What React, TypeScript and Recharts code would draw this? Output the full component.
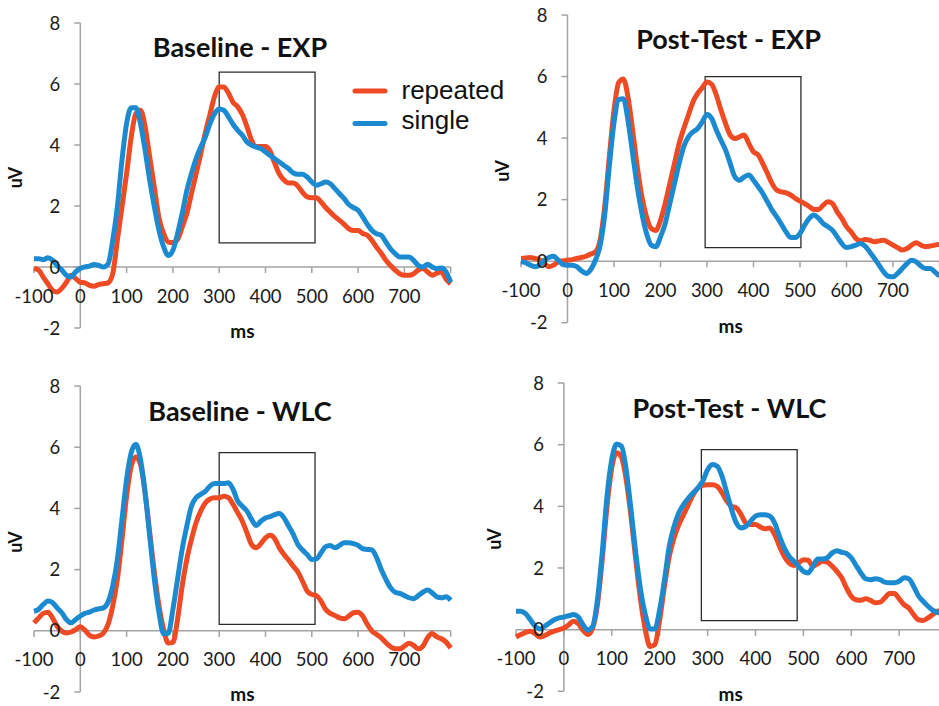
import { LineChart, Line, XAxis, YAxis, ReferenceLine, ReferenceArea, ReferenceDot } from "recharts";

const RED = "#ee4a24";
const BLUE = "#1c8ad0";
const AXIS = "#a3a3a3";
const FONT = "Lato, 'Open Sans', sans-serif";

// time base in ms, -100..800 step 10
const ms = Array.from({ length: 91 }, (_, i) => -100 + i * 10);

const xTicks = [-100, 0, 100, 200, 300, 400, 500, 600, 700];
const xTickMarks = [-100, 0, 100, 200, 300, 400, 500, 600, 700, 800];
const yTicks = [-2, 0, 2, 4, 6, 8];

// Baseline - EXP
const p1Rep = [
  -0.05, -0.1, -0.33, -0.55, -0.76, -0.82, -0.7, -0.5, -0.27, -0.38,
  -0.5, -0.52, -0.6, -0.63, -0.57, -0.55, -0.52, -0.22, 0.87, 1.97,
  3.06, 4.26, 5.03, 5.14, 4.6, 3.6, 2.6, 1.6, 1.1, 0.82,
  0.8, 0.9, 1.3, 1.75, 2.4, 3.05, 3.7, 4.4, 5.0, 5.6,
  5.9, 5.9, 5.7, 5.4, 5.25, 5.0, 4.6, 4.15, 3.95, 3.95,
  3.95, 3.8, 3.4, 3.05, 2.85, 2.75, 2.75, 2.65, 2.45, 2.3,
  2.27, 2.27, 2.13, 1.95, 1.8, 1.65, 1.53, 1.4, 1.25, 1.2,
  1.2, 1.1, 1.04, 0.87, 0.65, 0.45, 0.22, 0.05, -0.1, -0.22,
  -0.27, -0.27, -0.22, -0.1, -0.05, -0.16, -0.27, -0.2, -0.16, -0.4,
  -0.55,
];
const p1Sgl = [
  0.27, 0.27, 0.24, 0.3, 0.22, 0.05, -0.1, -0.27, -0.33, -0.16,
  -0.05, 0, 0.03, 0.08, 0.05, 0, 0.1, 0.87, 1.97, 3.5,
  4.7, 5.22, 5.22, 4.7, 3.83, 2.84, 1.97, 1.2, 0.66, 0.38,
  0.55, 1.09, 1.75, 2.5, 3.06, 3.55, 3.93, 4.26, 4.7, 5.03,
  5.18, 5.14, 4.92, 4.68, 4.48, 4.32, 4.1, 3.99, 3.93, 3.88,
  3.77, 3.66, 3.55, 3.44, 3.33, 3.22, 3.08, 3.04, 3.04, 2.95,
  2.79, 2.68, 2.73, 2.79, 2.73, 2.57, 2.4, 2.24, 2.05, 1.95,
  1.86, 1.64, 1.4, 1.2, 1.09, 1.04, 0.82, 0.6, 0.44, 0.33,
  0.33, 0.33, 0.22, 0.05, 0, 0.09, 0, -0.05, -0.03, -0.16,
  -0.5,
];

// Post-Test - EXP
const p2Rep = [
  0.09, 0.1, 0.12, 0.09, 0.05, -0.08, -0.18, -0.13, -0.02, 0.01,
  0.03, 0.05, 0.09, 0.12, 0.16, 0.23, 0.3, 0.68, 1.77, 3.4,
  4.9, 5.8, 5.92, 5.34, 4.26, 3.07, 2.09, 1.44, 1.06, 1.0,
  1.33, 1.87, 2.52, 3.17, 3.82, 4.31, 4.75, 5.18, 5.45, 5.64,
  5.82, 5.75, 5.4, 4.91, 4.47, 4.1, 3.99, 4.04, 4.1, 3.82,
  3.55, 3.45, 3.17, 2.85, 2.52, 2.31, 2.25, 2.22, 2.15, 2.04,
  1.95, 1.87, 1.77, 1.68, 1.68, 1.82, 1.93, 1.87, 1.6, 1.39,
  1.12, 0.95, 0.74, 0.66, 0.7, 0.68, 0.63, 0.66, 0.68, 0.61,
  0.52, 0.44, 0.36, 0.41, 0.52, 0.6, 0.52, 0.47, 0.49, 0.52,
  0.54,
];
const p2Sgl = [
  -0.02, -0.05, -0.13, -0.18, -0.13, 0.03, 0.12, 0.16, 0.03, -0.11,
  -0.13, -0.13, -0.18, -0.31, -0.4, -0.27, 0.03, 0.5, 1.5, 3.1,
  4.5, 5.25, 5.28, 4.58, 3.5, 2.42, 1.55, 0.9, 0.52, 0.47,
  0.79, 1.22, 1.87, 2.52, 3.17, 3.72, 4.04, 4.2, 4.31, 4.53,
  4.77, 4.64, 4.26, 3.93, 3.61, 3.17, 2.74, 2.63, 2.74, 2.8,
  2.63, 2.42, 2.2, 1.93, 1.66, 1.44, 1.2, 0.95, 0.77, 0.77,
  0.9, 1.17, 1.39, 1.5, 1.39, 1.22, 1.12, 1.0, 0.79, 0.57,
  0.44, 0.47, 0.52, 0.57, 0.49, 0.3, 0.09, -0.13, -0.35, -0.49,
  -0.51, -0.4, -0.24, -0.08, 0.03, -0.02, -0.16, -0.24, -0.24, -0.35,
  -0.49,
];

// Baseline - WLC
const p3Rep = [
  0.26, 0.42, 0.57, 0.61, 0.42, 0.15, -0.01, -0.07, -0.04, 0.04,
  0.13, 0.02, -0.15, -0.2, -0.17, -0.07, 0.21, 0.81, 1.68, 2.98,
  4.4, 5.38, 5.68, 5.44, 4.51, 3.2, 1.9, 0.81, 0.04, -0.4,
  -0.38, 0.37, 1.46, 2.33, 2.98, 3.53, 3.91, 4.18, 4.31, 4.35,
  4.35, 4.4, 4.35, 4.13, 3.86, 3.58, 3.2, 2.82, 2.71, 2.85,
  3.04, 3.12, 3.01, 2.71, 2.49, 2.31, 2.11, 1.92, 1.62, 1.3,
  1.19, 1.15, 0.97, 0.7, 0.57, 0.5, 0.42, 0.39, 0.48, 0.59,
  0.61, 0.48, 0.21, -0.01, -0.12, -0.23, -0.39, -0.52, -0.59, -0.59,
  -0.5, -0.41, -0.48, -0.59, -0.5, -0.23, -0.09, -0.2, -0.26, -0.37,
  -0.56,
];
const p3Sgl = [
  0.64, 0.7, 0.86, 0.97, 0.92, 0.75, 0.59, 0.37, 0.26, 0.37,
  0.48, 0.57, 0.61, 0.68, 0.72, 0.75, 0.94, 1.46, 2.33, 3.64,
  4.95, 5.82, 6.1, 5.6, 4.51, 3.09, 1.68, 0.59, -0.1, -0.08,
  0.7, 1.68, 2.66, 3.42, 4.07, 4.35, 4.46, 4.56, 4.73, 4.81,
  4.81, 4.81, 4.84, 4.62, 4.24, 4.07, 3.91, 3.64, 3.44, 3.58,
  3.69, 3.73, 3.8, 3.83, 3.69, 3.42, 3.15, 2.82, 2.64, 2.49,
  2.33, 2.35, 2.55, 2.75, 2.79, 2.71, 2.79, 2.88, 2.88, 2.85,
  2.79, 2.68, 2.66, 2.64, 2.39, 2.0, 1.68, 1.41, 1.26, 1.22,
  1.15, 1.08, 1.05, 1.15, 1.26, 1.33, 1.24, 1.11, 1.08, 1.11,
  1.0,
];

// Post-Test - WLC
const p4Rep = [
  -0.24, -0.16, -0.09, -0.05, -0.13, -0.24, -0.19, -0.11, -0.05, 0,
  0.05, 0.16, 0.27, 0.19, -0.02, -0.16, 0.05, 0.81, 2.27, 4.0,
  5.25, 5.74, 5.6, 4.87, 3.68, 2.27, 0.97, 0, -0.55, -0.48,
  0.32, 1.41, 2.38, 2.98, 3.41, 3.73, 4.06, 4.38, 4.6, 4.68,
  4.7, 4.7, 4.65, 4.44, 4.17, 4.0, 3.95, 3.73, 3.46, 3.41,
  3.41, 3.33, 3.27, 3.3, 3.08, 2.71, 2.38, 2.16, 2.08, 2.16,
  2.27, 2.25, 2.06, 2.14, 2.22, 2.19, 2.06, 1.89, 1.68, 1.35,
  1.08, 0.97, 0.95, 1.0, 0.95, 0.87, 0.89, 1.03, 1.17, 1.17,
  1.0, 0.81, 0.7, 0.49, 0.32, 0.3, 0.38, 0.49, 0.6, 0.62,
  0.65,
];
const p4Sgl = [
  0.6, 0.6, 0.52, 0.32, 0.11, 0.02, 0.11, 0.22, 0.32, 0.38,
  0.41, 0.45, 0.49, 0.41, 0.16, -0.01, 0.1, 0.97, 2.49, 4.33,
  5.52, 6.02, 5.95, 5.19, 3.9, 2.49, 1.3, 0.49, 0.02, 0.02,
  0.65, 1.62, 2.71, 3.35, 3.79, 4.06, 4.27, 4.44, 4.6, 4.82,
  5.19, 5.36, 5.3, 4.98, 4.44, 3.9, 3.46, 3.3, 3.35, 3.52,
  3.68, 3.73, 3.73, 3.68, 3.46, 3.03, 2.65, 2.38, 2.22, 2.06,
  1.89, 1.84, 2.06, 2.29, 2.29, 2.33, 2.49, 2.56, 2.51, 2.47,
  2.33, 2.08, 1.84, 1.65, 1.62, 1.65, 1.62, 1.54, 1.52, 1.52,
  1.57, 1.68, 1.65, 1.41, 1.1, 0.92, 0.76, 0.63, 0.56, 0.52,
  0.5,
];

const rows = ms.map((t, i) => ({
  ms: t,
  p1r: p1Rep[i], p1s: p1Sgl[i],
  p2r: p2Rep[i], p2s: p2Sgl[i],
  p3r: p3Rep[i], p3s: p3Sgl[i],
  p4r: p4Rep[i], p4s: p4Sgl[i],
}));

type PanelCfg = {
  id: string;
  title: string;
  left: number; top: number; plotW: number; plotH: number;
  box: [number, number, number, number];
  titleX: number; titleY: number;
  uvX: number; uvY: number;
  msX: number; msY: number;
};

const panels: PanelCfg[] = [
  { id: "p1", title: "Baseline - EXP", left: 33.7, top: 22.7, plotW: 416.7, plotH: 305,
    box: [300, 507, 0.79, 6.39], titleX: 240, titleY: 56.5, uvX: 21.7, uvY: 177.5, msX: 242.5, msY: 337.5 },
  { id: "p2", title: "Post-Test - EXP", left: 520.8, top: 15, plotW: 418.5, plotH: 307.7,
    box: [296, 502, 0.44, 6.0], titleX: 728.5, titleY: 49, uvX: 509, uvY: 170.8, msX: 730.7, msY: 333 },
  { id: "p3", title: "Baseline - WLC", left: 33.7, top: 386.3, plotW: 416.7, plotH: 306,
    box: [300, 507, 0.21, 5.82], titleX: 240, titleY: 421, uvX: 21.7, uvY: 542, msX: 242.5, msY: 701 },
  { id: "p4", title: "Post-Test - WLC", left: 516.1, top: 383, plotW: 431.1, plotH: 308.3,
    box: [287, 487, 0.29, 5.84], titleX: 729.5, titleY: 418, uvX: 500.7, uvY: 539, msX: 730.7, msY: 701 },
];

const tickLabel = { fill: "#1a1a1a", fontSize: 18.5, fontFamily: FONT };

function Panel({ cfg }: { cfg: PanelCfg }) {
  const padL = 40, padR = 12, padT = 12, padB = 14;
  const w = cfg.plotW + padL + padR;
  const h = cfg.plotH + padT + padB;
  const [bx1, bx2, by1, by2] = cfg.box;
  return (
    <div style={{ position: "absolute", left: cfg.left - padL, top: cfg.top - padT }}>
      <LineChart width={w} height={h} data={rows} margin={{ top: padT, right: padR, bottom: padB, left: padL }}>
        <XAxis type="number" dataKey="ms" domain={[-100, 800]} hide />
        <YAxis type="number" domain={[-2, 8]} hide />
        <ReferenceLine y={0} stroke={AXIS} strokeWidth={1.5} />
        <ReferenceLine x={0} stroke={AXIS} strokeWidth={1.5} />
        {xTickMarks.map((t) => (
          <ReferenceLine key={`xt${t}`} segment={[{ x: t, y: 0 }, { x: t, y: -0.2 }]} stroke={AXIS} strokeWidth={1.5} />
        ))}
        {yTicks.map((v) => (
          <ReferenceLine key={`yt${v}`} segment={[{ x: 0, y: v }, { x: -13, y: v }]} stroke={AXIS} strokeWidth={1.5} />
        ))}
        {xTicks.map((t) => (
          <ReferenceDot key={`xl${t}`} x={t} y={0} r={0} fill="none" stroke="none"
            label={{ value: String(t), position: "bottom", offset: 22.5, ...tickLabel }} />
        ))}
        {yTicks.map((v) => (
          <ReferenceDot key={`yl${v}`} x={0} y={v} r={0} fill="none" stroke="none"
            label={{ value: String(v), position: "left", offset: 20, ...tickLabel }} />
        ))}
        <ReferenceArea x1={bx1} x2={bx2} y1={by1} y2={by2} fill="none" fillOpacity={0} stroke="#2b2b2b" strokeWidth={1.3} />
        <Line type="monotone" dataKey={`${cfg.id}r`} stroke={RED} strokeWidth={5} dot={false} activeDot={false}
          strokeLinejoin="round" isAnimationActive={false} />
        <Line type="monotone" dataKey={`${cfg.id}s`} stroke={BLUE} strokeWidth={5} dot={false} activeDot={false}
          strokeLinejoin="round" isAnimationActive={false} />
      </LineChart>
    </div>
  );
}

export default function App() {
  return (
    <div style={{ position: "absolute", left: 0, top: 0, width: 939, height: 706, overflow: "hidden", background: "#fff" }}>
      {panels.map((p) => (
        <Panel key={p.id} cfg={p} />
      ))}
      <svg width={939} height={706} style={{ position: "absolute", left: 0, top: 0, pointerEvents: "none" }}>
        {panels.map((p) => (
          <g key={p.id} fontFamily={FONT} fill="#111" fontWeight="bold">
            <text x={p.titleX} y={p.titleY} textAnchor="middle" fontSize={27}>{p.title}</text>
            <text x={p.msX} y={p.msY} textAnchor="middle" fontSize={19}>ms</text>
            <text x={p.uvX} y={p.uvY} textAnchor="middle" fontSize={18} transform={`rotate(-90 ${p.uvX} ${p.uvY})`}>uV</text>
          </g>
        ))}
        <g fontFamily="'Liberation Sans', Arial, sans-serif" fontSize={26} fill="#111">
          <line x1={355} x2={385} y1={91} y2={91} stroke={RED} strokeWidth={5} strokeLinecap="round" />
          <line x1={355} x2={385} y1={123.5} y2={123.5} stroke={BLUE} strokeWidth={5} strokeLinecap="round" />
          <text x={401.5} y={98.5}>repeated</text>
          <text x={401.5} y={128.5}>single</text>
        </g>
      </svg>
    </div>
  );
}
